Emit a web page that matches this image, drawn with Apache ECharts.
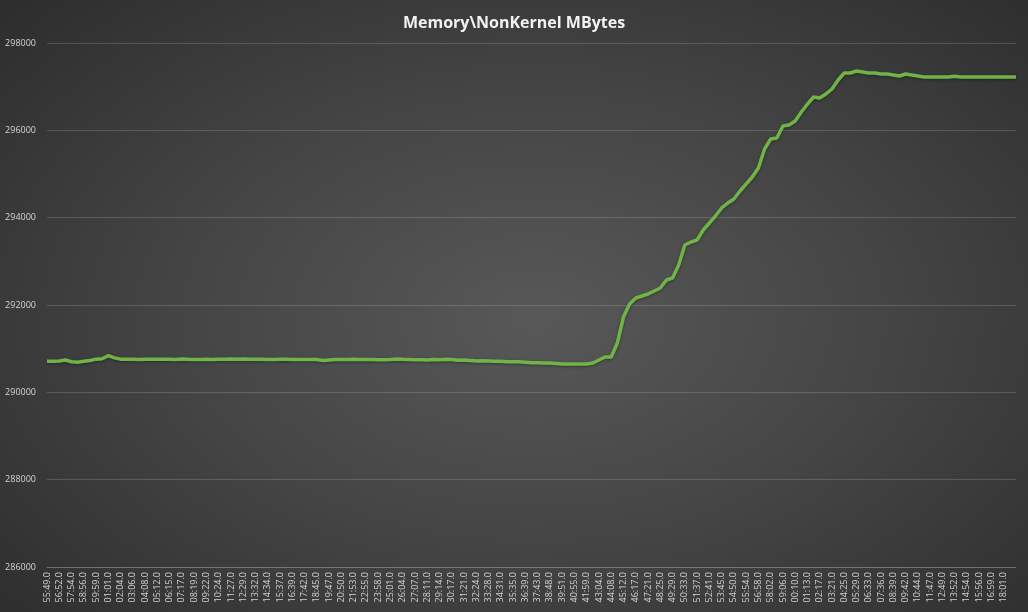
<!DOCTYPE html>
<html>
<head>
<meta charset="utf-8">
<script src="https://cdn.jsdelivr.net/npm/echarts@6/dist/echarts.min.js"></script>
<style>
html,body{margin:0;padding:0;width:1028px;height:612px;overflow:hidden;}
#chart{width:1028px;height:612px;background:radial-gradient(ellipse 75% 80% at 52% 52%, #585858 0%, #454545 45%, #2a2a2a 100%);}
</style>
</head>
<body>
<div id="chart"></div>
<script>
const chartTitle = 'Memory\\NonKernel MBytes';
const timeLabels = [
'55:49.0','56:52.0','57:54.0','58:56.0','59:59.0','01:01.0','02:04.0','03:06.0','04:08.0','05:12.0',
'06:15.0','07:17.0','08:19.0','09:22.0','10:24.0','11:27.0','12:29.0','13:32.0','14:34.0','15:37.0',
'16:39.0','17:42.0','18:45.0','19:47.0','20:50.0','21:53.0','22:55.0','23:58.0','25:01.0','26:04.0',
'27:07.0','28:11.0','29:14.0','30:17.0','31:21.0','32:24.0','33:28.0','34:31.0','35:35.0','36:39.0',
'37:43.0','38:48.0','39:51.0','40:55.0','41:59.0','43:04.0','44:08.0','45:12.0','46:17.0','47:21.0',
'48:25.0','49:29.0','50:33.0','51:37.0','52:41.0','53:45.0','54:50.0','55:54.0','56:58.0','58:02.0',
'59:06.0','00:10.0','01:13.0','02:17.0','03:21.0','04:25.0','05:29.0','06:33.0','07:36.0','08:39.0',
'09:42.0','10:44.0','11:47.0','12:49.0','13:52.0','14:54.0','15:56.0','16:59.0','18:01.0'
];
// two samples per labelled tick, last sample unlabelled
const memoryMBytes = [
290710,290710,290720,290740,290700,290690,290710,290730,290760,290770,
290840,290790,290760,290755,290755,290750,290755,290755,290755,290755,
290755,290750,290765,290755,290750,290750,290755,290750,290760,290755,
290765,290755,290765,290760,290755,290755,290750,290750,290760,290755,
290750,290750,290750,290750,290750,290730,290740,290750,290750,290750,
290755,290750,290750,290750,290745,290745,290750,290765,290755,290750,
290745,290745,290740,290750,290745,290755,290750,290735,290740,290730,
290720,290725,290720,290710,290710,290700,290700,290700,290690,290680,
290680,290670,290670,290660,290650,290650,290650,290649,290649,290672,
290741,290809,290809,291130,291725,292023,292160,292206,292252,292321,
292389,292573,292619,292916,293374,293443,293489,293718,293878,294038,
294222,294336,294428,294611,294771,294931,295138,295573,295802,295825,
296099,296122,296214,296420,296603,296763,296740,296832,296947,297153,
297313,297313,297359,297336,297313,297313,297290,297290,297267,297244,
297290,297267,297244,297221,297221,297221,297221,297221,297240,297221,
297221,297221,297221,297221,297221,297221,297221,297221,297221
];
const yMin = 286000, yMax = 298000, yStep = 2000;

const categories = [];
timeLabels.forEach(t => { categories.push(t); categories.push(''); });
while (categories.length < memoryMBytes.length) categories.push('');
categories.length = memoryMBytes.length;

const chart = echarts.init(document.getElementById('chart'), null, {renderer:'canvas'});
chart.setOption({
  backgroundColor: 'transparent',
  animation: false,
  title: {
    text: chartTitle,
    left: 'center',
    top: 10,
    textStyle: {color:'#f2f2f2', fontFamily:'Open Sans', fontWeight:'bold', fontSize:16}
  },
  grid: {left:47, right:12, top:43, bottom:45, containLabel:false},
  xAxis: {
    type: 'category',
    data: categories,
    boundaryGap: false,
    axisLine: {show:true, lineStyle:{color:'rgba(255,255,255,0.16)', width:1}},
    axisTick: {show:false},
    axisLabel: {
      interval: 0, rotate: 90, margin: 5,
      color:'#d4d4d4', fontFamily:'Open Sans', fontSize:9
    },
    splitLine: {show:false}
  },
  yAxis: {
    type: 'value',
    min: yMin, max: yMax, interval: yStep,
    axisLine: {show:false},
    axisTick: {show:false},
    axisLabel: {color:'#d4d4d4', fontFamily:'Open Sans', fontSize:9, margin:11, formatter: v => String(v)},
    splitLine: {lineStyle:{color:'rgba(255,255,255,0.16)', width:1}}
  },
  series: [{
    type: 'line',
    data: memoryMBytes,
    symbol: 'none',
    smooth: false,
    lineStyle: {color:'#72b347', width:3.5, shadowColor:'rgba(0,0,0,0.35)', shadowBlur:3, shadowOffsetY:1},
    itemStyle: {color:'#72b347'}
  }]
});
</script>
</body>
</html>
